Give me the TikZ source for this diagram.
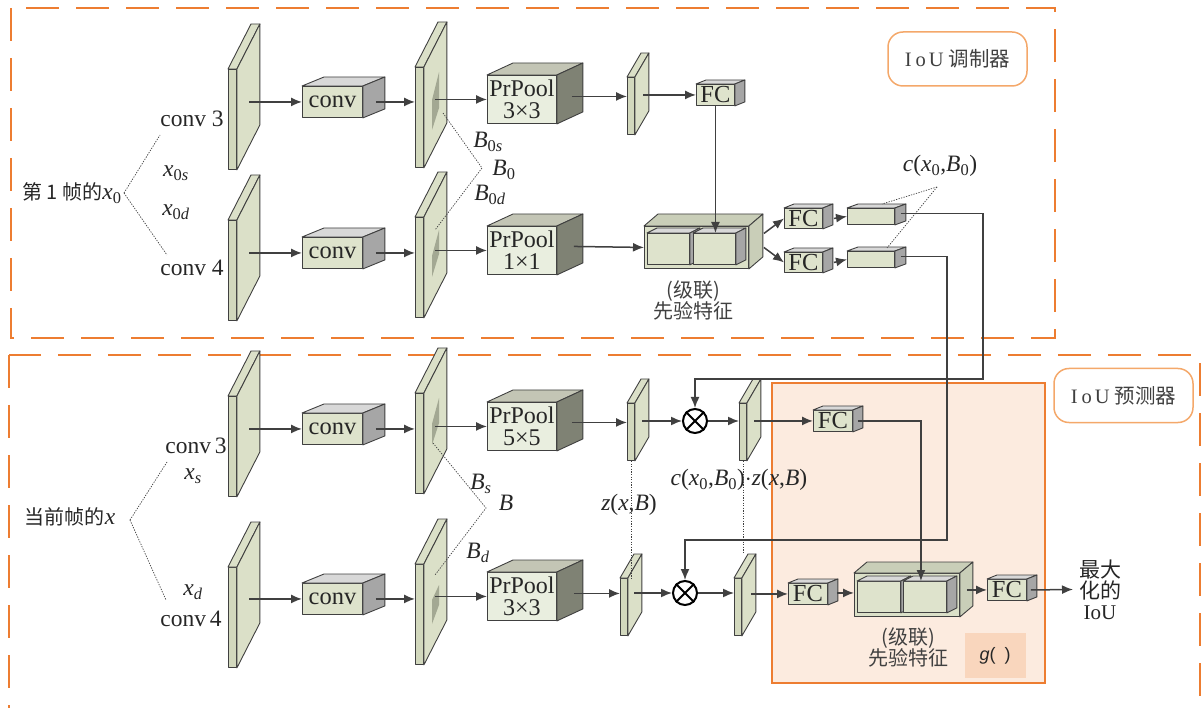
\documentclass[tikz,border=0pt]{standalone}
\usepackage{fontspec}
\setmainfont{Liberation Serif}
\newfontfamily\cjk{Noto Sans CJK SC}
\newfontfamily\sfont{Liberation Sans}
\usetikzlibrary{arrows.meta,calc}

\definecolor{ln}{HTML}{404040}
\definecolor{txt}{HTML}{262626}
\definecolor{org}{HTML}{ED7D31}
\definecolor{lorg}{HTML}{F4A86A}
\definecolor{peach}{HTML}{FCEBDF}
\definecolor{gbox}{HTML}{F9D6BD}
\definecolor{olS}{HTML}{DBE0C8}
\definecolor{olF}{HTML}{D2D8BD}
\definecolor{grF}{HTML}{DEE3CC}
\definecolor{grT}{HTML}{D8D8D8}
\definecolor{grS}{HTML}{A6A6A6}
\definecolor{plF}{HTML}{E9EEDF}
\definecolor{plT}{HTML}{C3C5B5}
\definecolor{plS}{HTML}{7F8274}
\definecolor{roi}{HTML}{A3A893}

\newcommand{\sub}[1]{\textsubscript{#1}}
% name, x, y, w, h, dx, dy, kind, text
\newcommand{\cube}[9]{%
  \node[#8F, minimum width=#4pt, minimum height=#5pt, anchor=north west,
        inner sep=0pt, align=center] (#1) at (#2,#3) {#9};
  \filldraw[#8T] (#1.north west) -- ++(#6,#7) -- ($(#1.north east)+(#6,#7)$) -- (#1.north east) -- cycle;
  \filldraw[#8S] (#1.north east) -- ++(#6,#7) -- ($(#1.south east)+(#6,#7)$) -- (#1.south east) -- cycle;
}

\tikzset{
  every node/.append style={text=txt, font=\fontsize{23.5}{24}\selectfont},
  base/.style={draw=ln, line width=0.9pt, line join=round},
  slabF/.style={base, fill=olF}, slabT/.style={base, fill=olS}, slabS/.style={base, fill=olS},
  convF/.style={base, fill=grF, font=\fontsize{24.5}{24}\selectfont}, convT/.style={base, fill=grT}, convS/.style={base, fill=grS},
  poolF/.style={base, fill=plF, font=\fontsize{24}{22}\selectfont}, poolT/.style={base, fill=plT}, poolS/.style={base, fill=plS},
  catF/.style={base, fill=olS}, catT/.style={base, fill=olS!92!black}, catS/.style={base, fill=olS!92!black},
  arr/.style={draw=ln, line width=1.5pt, -{Latex[length=11pt,width=9pt]}},
  dotl/.style={draw=ln, line width=0.7pt, dash pattern=on 1.3pt off 1.3pt},
  dashbox/.style={draw=org, line width=2pt, dash pattern=on 33pt off 17pt},
  otimes/.style={draw=black, line width=2pt, circle, minimum size=24pt, inner sep=0pt},
  tag/.style={draw=lorg, line width=1.5pt, rounded corners=15pt, minimum width=139pt, minimum height=54pt,
              font=\fontsize{20.5}{22}\selectfont, text=ln},
  cjkl/.style={font=\cjk\fontsize{20}{21}\selectfont, text=ln, align=center},
}

\begin{document}
\begin{tikzpicture}[x=1pt,y=-1pt]
\useasboundingbox (0,0) rectangle (1202,708);
\clip (0,0) rectangle (1202,708);

% frames
\draw[dashbox] (11,8) rectangle (1055,338);
\draw[dashbox] (9,355) rectangle (1200,730);
\draw[fill=peach, draw=org, line width=2.2pt] (772,383) rectangle (1045,683);
\fill[gbox] (965,633) rectangle (1026,678);
\node[font=\sfont\fontsize{18}{20}\selectfont] (g) at (995,656) {\textit{g}(\hspace{9pt})};

\node[tag] (tag1) at (957.5,59) {I\hspace{4pt}o\hspace{3pt}U {\cjk 调制器}};
\node[tag] (tag2) at (1123.5,395.5) {I\hspace{4pt}o\hspace{3pt}U {\cjk 预测器}};

% big slabs
\cube{s1}{228}{69}{8}{100}{23}{-45}{slab}{}
\cube{s2}{228}{220}{8}{100}{23}{-45}{slab}{}
\cube{s3}{415}{67}{8}{100}{23}{-45}{slab}{}
\cube{s4}{415}{217}{8}{100}{23}{-45}{slab}{}
\cube{s5}{228}{396}{8}{100}{23}{-45}{slab}{}
\cube{s6}{228}{567}{8}{100}{23}{-45}{slab}{}
\cube{s7}{415}{393}{8}{100}{23}{-45}{slab}{}
\cube{s8}{415}{564}{8}{100}{23}{-45}{slab}{}
% RoI patches
\fill[roi] (432,100) -- (439,72) -- (439,108) -- (432,130) -- cycle;
\fill[roi] (432,256) -- (439,230) -- (439,254) -- (432,277) -- cycle;
\fill[roi] (432,424) -- (439,398) -- (439,423) -- (432,445) -- cycle;
\fill[roi] (432,600) -- (439,585) -- (439,605) -- (432,624) -- cycle;

% small slabs
\cube{t1}{627}{77}{7}{57}{14}{-24}{slab}{}
\cube{t2}{627}{403}{7}{57}{14}{-24}{slab}{}
\cube{t3}{739}{403}{7}{57}{14}{-24}{slab}{}
\cube{t4}{620}{578}{7}{57}{14}{-24}{slab}{}
\cube{t5}{734}{578}{7}{57}{14}{-24}{slab}{}

% conv boxes
\cube{c1}{302}{86}{60}{31}{22}{-9}{conv}{conv}
\cube{c2}{302}{237}{60}{31}{22}{-9}{conv}{conv}
\cube{c3}{302}{413}{60}{31}{22}{-9}{conv}{conv}
\cube{c4}{302}{583}{60}{31}{22}{-9}{conv}{conv}

% PrPool boxes
\cube{p1}{487}{75}{69}{48}{26}{-12}{pool}{PrPool\\3×3}
\cube{p2}{487}{226}{69}{48}{26}{-12}{pool}{PrPool\\1×1}
\cube{p3}{487}{402}{69}{48}{26}{-12}{pool}{PrPool\\5×5}
\cube{p4}{487}{572}{69}{48}{26}{-12}{pool}{PrPool\\3×3}

% FC boxes
\cube{f1}{696}{84}{38}{21}{10}{-4}{conv}{FC}
\cube{f2}{784}{208}{38}{20}{10}{-4}{conv}{FC}
\cube{f3}{784}{252}{38}{20}{10}{-4}{conv}{FC}
\cube{f4}{813}{410}{39}{21}{10}{-4}{conv}{FC}
\cube{f5}{788}{583}{39}{21}{10}{-4}{conv}{FC}
\cube{f6}{987}{579}{39}{21}{10}{-4}{conv}{FC}

% c feature boxes
\cube{k1}{847}{208}{47}{16}{11}{-4}{conv}{}
\cube{k2}{847}{251}{47}{16}{11}{-4}{conv}{}

% concat boxes
\cube{cat1}{644}{226}{104}{42}{14}{-12}{cat}{}
\cube{b1}{647}{233}{42}{31}{10}{-5}{conv}{}
\cube{b2}{693}{233}{42}{31}{10}{-5}{conv}{}
\cube{cat2}{854}{573}{105}{43}{13}{-11}{cat}{}
\cube{b3}{857}{581}{43}{31}{10}{-5}{conv}{}
\cube{b4}{903}{581}{43}{31}{10}{-5}{conv}{}

% otimes
\node[otimes] (o1) at (695,421) {};
\draw[line width=2pt] (o1.45) -- (o1.225) (o1.135) -- (o1.315);
\node[otimes] (o2) at (685,593) {};
\draw[line width=2pt] (o2.45) -- (o2.225) (o2.135) -- (o2.315);

% arrows row 1
\draw[arr] ($(c1.west)+(-53,0)$) -- (c1.west);
\draw[arr] ($(c1.east)+(13,0)$) -- (c1.east -| s3.west);
\draw[arr] ($(p1.west)+(-52,0)$) -- (p1.west);
\draw[arr] ($(p1.east)+(15,-3)$) -- ($(p1.east -| t1.west)+(0,-3)$);
\draw[arr] ($(f1.west)+(-53,0)$) -- (f1.west);
\draw[arr] (f1.south) -- (f1.south |- b2.north);
% row 2
\draw[arr] ($(c2.west)+(-53,0)$) -- (c2.west);
\draw[arr] ($(c2.east)+(13,0)$) -- (c2.east -| s4.west);
\draw[arr] ($(p2.west)+(-52,0)$) -- (p2.west);
\draw[arr] ($(p2.east)+(17,-4)$) -- (cat1.west);
\draw[arr] ($(cat1.east)+(15,-14)$) -- (f2.west);
\draw[arr] ($(cat1.east)+(15,0)$) -- (f3.west);
\draw[arr] ($(f2.east)+(11,0)$) -- (k1.west);
\draw[arr] ($(f3.east)+(11,0)$) -- (k2.west);
\draw[arr] ($(k1.east)+(6,-3)$) -| (983,379) -| (o1.north);
\draw[arr] ($(k2.east)+(6,-3)$) -| (947,540) -| (o2.north);
% row 3
\draw[arr] ($(c3.west)+(-53,0)$) -- (c3.west);
\draw[arr] ($(c3.east)+(13,0)$) -- (c3.east -| s7.west);
\draw[arr] ($(p3.west)+(-52,0)$) -- (p3.west);
\draw[arr] ($(p3.east)+(15,-4)$) -- ($(p3.east -| t2.west)+(0,-4)$);
\draw[arr] ($(o1.west)+(-40,0)$) -- (o1.west);
\draw[arr] (o1.east) -- (o1.east -| t3.west);
\draw[arr] ($(f4.west)+(-59,0)$) -- (f4.west);
\draw[arr] ($(f4.east)+(5,0)$) -| ($(b4.north)+(-4,0)$);
% row 4
\draw[arr] ($(c4.west)+(-53,0)$) -- (c4.west);
\draw[arr] ($(c4.east)+(13,0)$) -- (c4.east -| s8.west);
\draw[arr] ($(p4.west)+(-52,0)$) -- (p4.west);
\draw[arr] ($(p4.east)+(17,-3)$) -- ($(p4.east -| t4.west)+(0,-3)$);
\draw[arr] ($(o2.west)+(-38,0)$) -- (o2.west);
\draw[arr] (o2.east) -- (o2.east -| t5.west);
\draw[arr] ($(f5.west)+(-37,0)$) -- (f5.west);
\draw[arr] ($(f5.east)+(9,-1)$) -- ($(f5.east -| cat2.west)+(0,-1)$);
\draw[arr] ($(cat2.east)+(7,-5)$) -- (f6.west);
\coordinate (outend) at (1073,589.5);
\draw[arr] ($(f6.east)+(4,0)$) -- (outend);

% labels
\node (lx0) at (72,193) {{\cjk\fontsize{20}{22}\selectfont 第 1 帧的}\textit{x}\sub{0}};
\node (lc3a) at (192,119) {conv 3};
\node (lx0s) at (176,173) {\textit{x}\sub{0\textit{s}}};
\node (lx0d) at (176,212) {\textit{x}\sub{0\textit{d}}};
\node (lc4a) at (192,268) {conv 4};
\node (lx) at (70,517) {{\cjk\fontsize{20}{22}\selectfont 当前帧的}\textit{x}};
\node[inner sep=1pt] (lc3b) at (196,446) {conv\,3};
\node[inner sep=1pt] (lxs) at (193,476) {\textit{x}\sub{\textit{s}}};
\node[inner sep=1pt] (lxd) at (193,592) {\textit{x}\sub{\textit{d}}};
\node[inner sep=1pt] (lc4b) at (191,619) {conv\,4};
\node (lB0s) at (488,142) {\textit{B}\sub{0\textit{s}}};
\node (lB0) at (504,170) {\textit{B}\sub{0}};
\node (lB0d) at (490,195) {\textit{B}\sub{0\textit{d}}};
\node (lBs) at (481,484) {\textit{B}\sub{\textit{s}}};
\node (lB) at (506,503) {\textit{B}};
\node (lBd) at (478,553) {\textit{B}\sub{\textit{d}}};
\node (lc0) at (940,166) {\textit{c}(\textit{x}\sub{0},\textit{B}\sub{0})};
\node (lz) at (629,505) {\textit{z}(\textit{x},\textit{B})};
\node (lcz) at (739,480) {\textit{c}(\textit{x}\sub{0},\textit{B}\sub{0})$\cdot$\textit{z}(\textit{x},\textit{B})};
\node[cjkl] (lcat1) at (693,300) {(级联)\\先验特征};
\node[cjkl] (lcat2) at (908,647) {(级联)\\先验特征};
\node[align=center, font=\fontsize{21}{21}\selectfont] (lout) at (1100,590) {{\cjk 最大}\\{\cjk 化的}\\IoU};

% dotted guides
\coordinate (tx0) at (124,193);
\draw[dotl] (tx0) -- (160,135);
\draw[dotl] (tx0) -- (167,255);
\coordinate (tx) at (130,520);
\draw[dotl] (tx) -- (167,462);
\draw[dotl] (tx) -- (166,600);
\draw[dotl] (443,113) -- (482,168) -- (435,230);
\draw[dotl] (433,443) -- (486,508) -- (435,575);
\coordinate (tc) at (937,187);
\draw[dotl] (tc) -- (882,204);
\draw[dotl] (tc) -- (887,248);
\draw[dotl] (t2.south) -- (t2.south |- t4.north);
\draw[dotl] (t3.south) -- ($(t3.south)+(0,93)$);
\end{tikzpicture}
\end{document}
